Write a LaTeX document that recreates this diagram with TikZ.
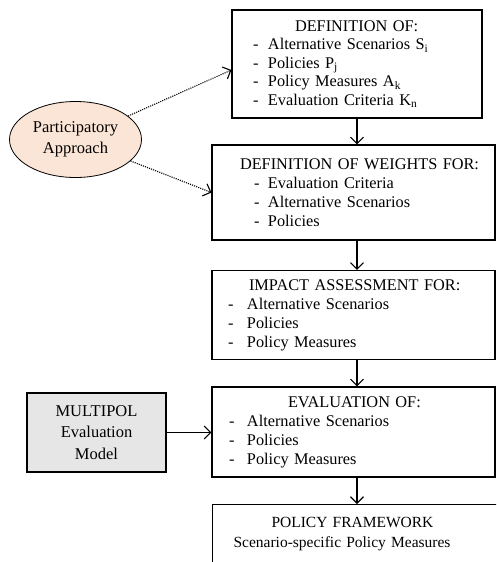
\documentclass[tikz,border=0pt]{standalone}
\usepackage{fontspec}
\setmainfont{Liberation Serif}
\usetikzlibrary{arrows.meta,shapes.geometric}

\definecolor{peach}{HTML}{FBE5D6}
\definecolor{lightgrey}{HTML}{E6E6E6}

% indent, dash column, text
\newcommand{\bitem}[3]{\hspace*{#1}\makebox[#2][l]{-}#3}
\newcommand{\bhead}[2]{\hspace*{#1}#2}

\begin{document}
\begin{tikzpicture}[x=1pt,y=-1pt,line width=1.1pt,>={Straight Barb[length=6.5pt,width=13pt]}]
  \tikzstyle{stepbox}=[draw,rectangle,inner sep=0pt,align=left,font=\fontsize{16.3}{19}\selectfont]
  \tikzstyle{flow}=[->]
  \tikzstyle{hint}=[->,dash pattern=on 1.1pt off 1.1pt]
  \clip (0,0) rectangle (496,562);
  \node[stepbox,minimum width=250pt,minimum height=108pt,text width=250pt,
        font=\fontsize{16.3}{18.5}\selectfont] (def) at (357,64) {%
    \bhead{63pt}{DEFINITION OF:}\\
    \bitem{21pt}{15pt}{Alternative Scenarios S\textsubscript{i}}\\
    \bitem{21pt}{15pt}{Policies P\textsubscript{j}}\\
    \bitem{21pt}{15pt}{Policy Measures A\textsubscript{k}}\\
    \bitem{21pt}{15pt}{Evaluation Criteria K\textsubscript{n}}};
  \node[stepbox,minimum width=283pt,minimum height=95pt,text width=283pt] (wts) at (353.5,192.5) {%
    \bhead{28pt}{DEFINITION OF WEIGHTS FOR:}\\
    \bitem{42pt}{14pt}{Evaluation Criteria}\\
    \bitem{42pt}{14pt}{Alternative Scenarios}\\
    \bitem{42pt}{14pt}{Policies}};
  \node[stepbox,minimum width=283pt,minimum height=89pt,text width=283pt] (imp) at (353.5,315) {%
    \bhead{37pt}{IMPACT ASSESSMENT FOR:}\\
    \bitem{16pt}{19pt}{Alternative Scenarios}\\
    \bitem{16pt}{19pt}{Policies}\\
    \bitem{16pt}{19pt}{Policy Measures}};
  \node[stepbox,minimum width=283pt,minimum height=90pt,text width=283pt] (eval) at (353.5,432) {%
    \bhead{76pt}{EVALUATION OF:}\\
    \bitem{17pt}{18pt}{Alternative Scenarios}\\
    \bitem{17pt}{18pt}{Policies}\\
    \bitem{17pt}{18pt}{Policy Measures}};
  \node[stepbox,anchor=north west,minimum width=300pt,text width=300pt,inner ysep=12.7pt,
        text depth=70pt,font=\fontsize{15.5}{20}\selectfont] (frame) at (212,504) {%
    \bhead{59pt}{POLICY FRAMEWORK}\\
    \bhead{21pt}{Scenario-specific Policy Measures}};
  \node[draw,ellipse,fill=peach,line width=0.8pt,minimum width=132pt,minimum height=76pt,
        inner sep=0pt,align=center,font=\fontsize{16.5}{21}\selectfont] (pa) at (75.5,139.5)
    {Participatory\\Approach};
  \node[draw,rectangle,fill=lightgrey,minimum width=139pt,minimum height=79pt,
        inner sep=0pt,align=center,font=\fontsize{16.5}{21.5}\selectfont] (mp) at (96.5,432.5)
    {MULTIPOL\\Evaluation\\Model};
  \draw[flow] (def.south) -- (def.south |- wts.north);
  \draw[flow] (wts.south -| def.south) -- (def.south |- imp.north);
  \draw[flow] (imp.south -| def.south) -- (def.south |- eval.north);
  \draw[flow] (eval.south -| def.south) -- (def.south |- frame.north);
  \draw[flow] (mp.east) -- (mp.east -| eval.west);
  \draw[hint] (pa) -- ([yshift=-6pt]def.west);
  \draw[hint] (pa) -- (wts.west);
\end{tikzpicture}
\end{document}
